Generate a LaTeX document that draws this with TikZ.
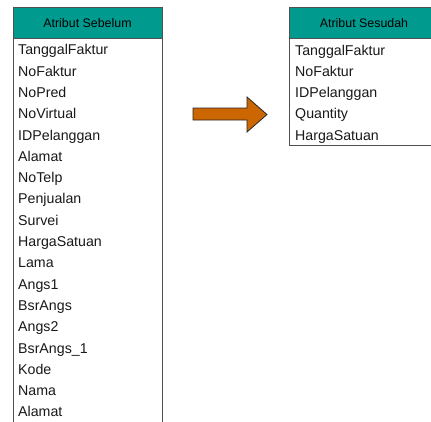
\documentclass[tikz,border=0pt]{standalone}
\usepackage{fontspec}
\setmainfont{Liberation Sans}
\definecolor{headteal}{RGB}{0,154,143}
\definecolor{bordergrey}{RGB}{80,80,80}
\definecolor{arroworange}{RGB}{204,102,0}
\definecolor{rowtext}{RGB}{25,25,25}
\begin{document}
\begin{tikzpicture}[x=1pt,y=-1pt,
  tablebody/.style={draw=bordergrey,line width=0.9pt,fill=white},
  tablehead/.style={draw=bordergrey,line width=0.9pt,fill=headteal},
  headtext/.style={inner sep=0pt,font=\fontsize{12.4}{14}\selectfont,text=black},
  rowlabel/.style={inner sep=0pt,anchor=base west,font=\fontsize{14.2}{16}\selectfont,text=rowtext},
  bigarrow/.style={draw=black!85,line width=0.8pt,fill=arroworange,line join=miter}]
\useasboundingbox (0,0) rectangle (431,421);
\clip (0,0) rectangle (431,421);
% left table
\draw[tablebody] (13,38) rectangle (162,440);
\draw[tablehead] (13,7) rectangle (162,38);
\node[headtext] (lh) at (87.5,23) {Atribut Sebelum};
\foreach \t [count=\i from 0] in {TanggalFaktur,NoFaktur,NoPred,NoVirtual,IDPelanggan,Alamat,NoTelp,Penjualan,Survei,HargaSatuan,Lama,Angs1,BsrAngs,Angs2,BsrAngs\_1,Kode,Nama,Alamat}
  \node[rowlabel] (l\i) at (18,{54.8+21.3*\i}) {\t};
% right table
\draw[tablebody] (289,38) rectangle (445,145);
\draw[tablehead] (289,7) rectangle (445,38);
\node[headtext] (rh) at (364,23) {Atribut Sesudah};
\foreach \t [count=\i from 0] in {TanggalFaktur,NoFaktur,IDPelanggan,Quantity,HargaSatuan}
  \node[rowlabel] (r\i) at (295,{55+21.3*\i}) {\t};
% arrow
\draw[bigarrow] (193,108) -- (247,108) -- (247,97) -- (267,114.5) -- (247,132) -- (247,120) -- (193,120) -- cycle;
\end{tikzpicture}
\end{document}
